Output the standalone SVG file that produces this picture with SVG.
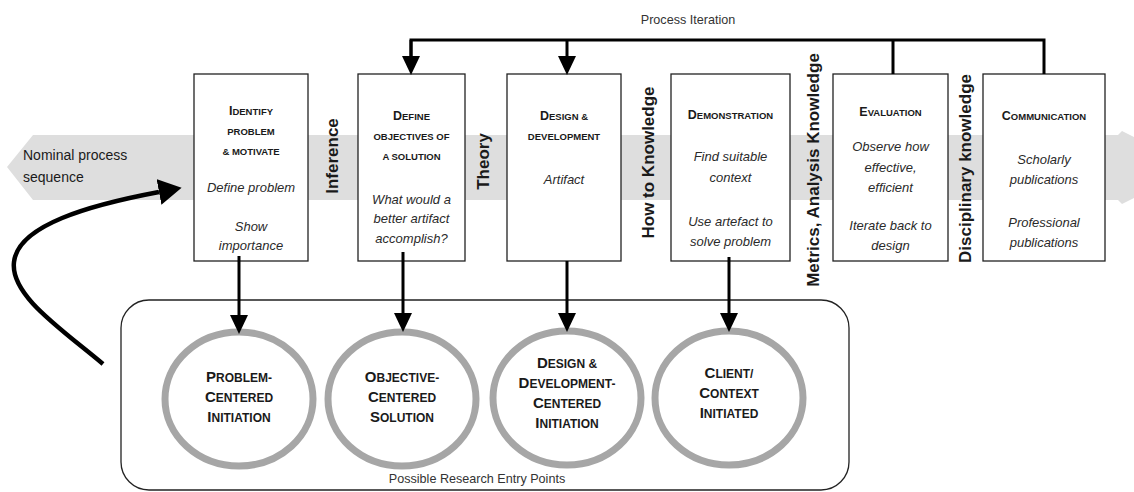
<svg xmlns="http://www.w3.org/2000/svg" width="1134" height="492" viewBox="0 0 1134 492">
<style>
text{font-family:"Liberation Sans",Arial,sans-serif;fill:#1a1a1a}
.box{fill:#fff;stroke:#222;stroke-width:1.3}
.ttl{font-weight:bold;font-size:9.5px;text-anchor:middle}
.big{font-size:12.5px}
.it{font-style:italic;font-size:13px;text-anchor:middle;fill:#2a2a2a}
.vl{font-weight:bold;font-size:17px;text-anchor:middle}
.ring{fill:#fff;stroke:#a6a6a6;stroke-width:7}
.ct{font-weight:bold;font-size:12px;text-anchor:middle}
.cbig{font-size:15px}
.arr{fill:none;stroke:#000;stroke-width:3}
.lbl{font-size:12.6px;fill:#333}
</style>
<defs>
<marker id="ah" markerUnits="userSpaceOnUse" markerWidth="19" markerHeight="18" viewBox="0 0 19 18" refX="0" refY="9" orient="auto">
<path d="M0,0 L19,9 L0,18 Z" fill="#000"/>
</marker>
<marker id="bigah" markerUnits="userSpaceOnUse" markerWidth="23" markerHeight="26" viewBox="0 0 23 26" refX="0" refY="13" orient="auto">
<path d="M0,0 L23,13 L0,26 Z" fill="#000"/>
</marker>
</defs>

<g id="band">
<polygon points="7,167 33,135 1118,135 1122,131 1134,137 1134,198 1122,204 1118,200 33,200" fill="#dedede"/>
<text x="23" y="160" font-size="14" fill="#333">Nominal process</text>
<text x="23" y="182" font-size="14" fill="#333">sequence</text>
</g>

<g id="entry-region">
<rect x="121" y="300" width="728" height="190" rx="28" ry="28" fill="none" stroke="#222" stroke-width="1.3"/>
<text class="lbl" x="477" y="483" text-anchor="middle">Possible Research Entry Points</text>
</g>

<g id="box-identify">
<rect class="box" x="194" y="74" width="114" height="187"/>
<text class="ttl" x="251" y="115"><tspan class="big">I</tspan>DENTIFY</text>
<text class="ttl" x="251" y="135">PROBLEM</text>
<text class="ttl" x="251" y="155">&amp; MOTIVATE</text>
<text class="it" x="251" y="192">Define problem</text>
<text class="it" x="251" y="231">Show</text>
<text class="it" x="251" y="250">importance</text>
</g>

<g id="box-define">
<rect class="box" x="358" y="74" width="107" height="187"/>
<text class="ttl" x="411.5" y="120"><tspan class="big">D</tspan>EFINE</text>
<text class="ttl" x="411.5" y="140">OBJECTIVES OF</text>
<text class="ttl" x="411.5" y="160">A SOLUTION</text>
<text class="it" x="411.5" y="204">What would a</text>
<text class="it" x="411.5" y="223">better artifact</text>
<text class="it" x="411.5" y="243">accomplish?</text>
</g>

<g id="box-design">
<rect class="box" x="507" y="74" width="114" height="187"/>
<text class="ttl" x="564" y="120"><tspan class="big">D</tspan>ESIGN &amp;</text>
<text class="ttl" x="564" y="140">DEVELOPMENT</text>
<text class="it" x="564" y="184">Artifact</text>
</g>

<g id="box-demo">
<rect class="box" x="671" y="74" width="119" height="187"/>
<text class="ttl" x="730.5" y="119"><tspan class="big">D</tspan>EMONSTRATION</text>
<text class="it" x="730.5" y="161">Find suitable</text>
<text class="it" x="730.5" y="182">context</text>
<text class="it" x="730.5" y="226">Use artefact to</text>
<text class="it" x="730.5" y="246">solve problem</text>
</g>

<g id="box-eval">
<rect class="box" x="833" y="74" width="115" height="187"/>
<text class="ttl" x="890.5" y="116"><tspan class="big">E</tspan>VALUATION</text>
<text class="it" x="890.5" y="151">Observe how</text>
<text class="it" x="890.5" y="172">effective,</text>
<text class="it" x="890.5" y="192">efficient</text>
<text class="it" x="890.5" y="230">Iterate back to</text>
<text class="it" x="890.5" y="250">design</text>
</g>

<g id="box-comm">
<rect class="box" x="983" y="74" width="122" height="187"/>
<text class="ttl" x="1044" y="120"><tspan class="big">C</tspan>OMMUNICATION</text>
<text class="it" x="1044" y="164">Scholarly</text>
<text class="it" x="1044" y="184">publications</text>
<text class="it" x="1044" y="227">Professional</text>
<text class="it" x="1044" y="247">publications</text>
</g>

<g id="knowledge-labels">
<text class="vl" transform="translate(332,156) rotate(-90)" y="6">Inference</text>
<text class="vl" transform="translate(483,161.5) rotate(-90)" y="6">Theory</text>
<text class="vl" transform="translate(648,162.5) rotate(-90)" y="6">How to Knowledge</text>
<text class="vl" transform="translate(813,170) rotate(-90)" y="6">Metrics, Analysis Knowledge</text>
<text class="vl" transform="translate(965,168.5) rotate(-90)" y="6">Disciplinary knowledge</text>
</g>

<g id="circle-problem">
<ellipse class="ring" cx="239" cy="399" rx="74" ry="67"/>
<text class="ct" x="239" y="382"><tspan class="cbig">P</tspan>ROBLEM-</text>
<text class="ct" x="239" y="402"><tspan class="cbig">C</tspan>ENTERED</text>
<text class="ct" x="239" y="422"><tspan class="cbig">I</tspan>NITIATION</text>
</g>

<g id="circle-objective">
<ellipse class="ring" cx="402" cy="399" rx="74" ry="67"/>
<text class="ct" x="402" y="382"><tspan class="cbig">O</tspan>BJECTIVE-</text>
<text class="ct" x="402" y="402"><tspan class="cbig">C</tspan>ENTERED</text>
<text class="ct" x="402" y="422"><tspan class="cbig">S</tspan>OLUTION</text>
</g>

<g id="circle-design">
<ellipse class="ring" cx="567" cy="398" rx="74" ry="67"/>
<text class="ct" x="567" y="368"><tspan class="cbig">D</tspan>ESIGN &amp;</text>
<text class="ct" x="567" y="388"><tspan class="cbig">D</tspan>EVELOPMENT-</text>
<text class="ct" x="567" y="408"><tspan class="cbig">C</tspan>ENTERED</text>
<text class="ct" x="567" y="428"><tspan class="cbig">I</tspan>NITIATION</text>
</g>

<g id="circle-client">
<ellipse class="ring" cx="729" cy="398" rx="74" ry="67"/>
<text class="ct" x="729" y="378"><tspan class="cbig">C</tspan>LIENT/</text>
<text class="ct" x="729" y="398"><tspan class="cbig">C</tspan>ONTEXT</text>
<text class="ct" x="729" y="418"><tspan class="cbig">I</tspan>NITIATED</text>
</g>

<g id="connectors">
<text class="lbl" x="688" y="24" text-anchor="middle">Process Iteration</text>
<polyline class="arr" points="411,56 411,40 1044,40 1044,74"/>
<line class="arr" x1="567" y1="40" x2="567" y2="56" marker-end="url(#ah)"/>
<line class="arr" x1="411" y1="40" x2="411" y2="56" marker-end="url(#ah)"/>
<line class="arr" x1="893" y1="40" x2="893" y2="74"/>
<line class="arr" x1="239" y1="256" x2="239" y2="315" marker-end="url(#ah)"/>
<line class="arr" x1="403" y1="252" x2="403" y2="313" marker-end="url(#ah)"/>
<line class="arr" x1="567" y1="261" x2="567" y2="313" marker-end="url(#ah)"/>
<line class="arr" x1="729" y1="257" x2="729" y2="313" marker-end="url(#ah)"/>
<path d="M103,364 C60,328 10,295 14,262 C18,225 90,205 159,192" fill="none" stroke="#000" stroke-width="4.5" marker-end="url(#bigah)"/>
</g>
</svg>
